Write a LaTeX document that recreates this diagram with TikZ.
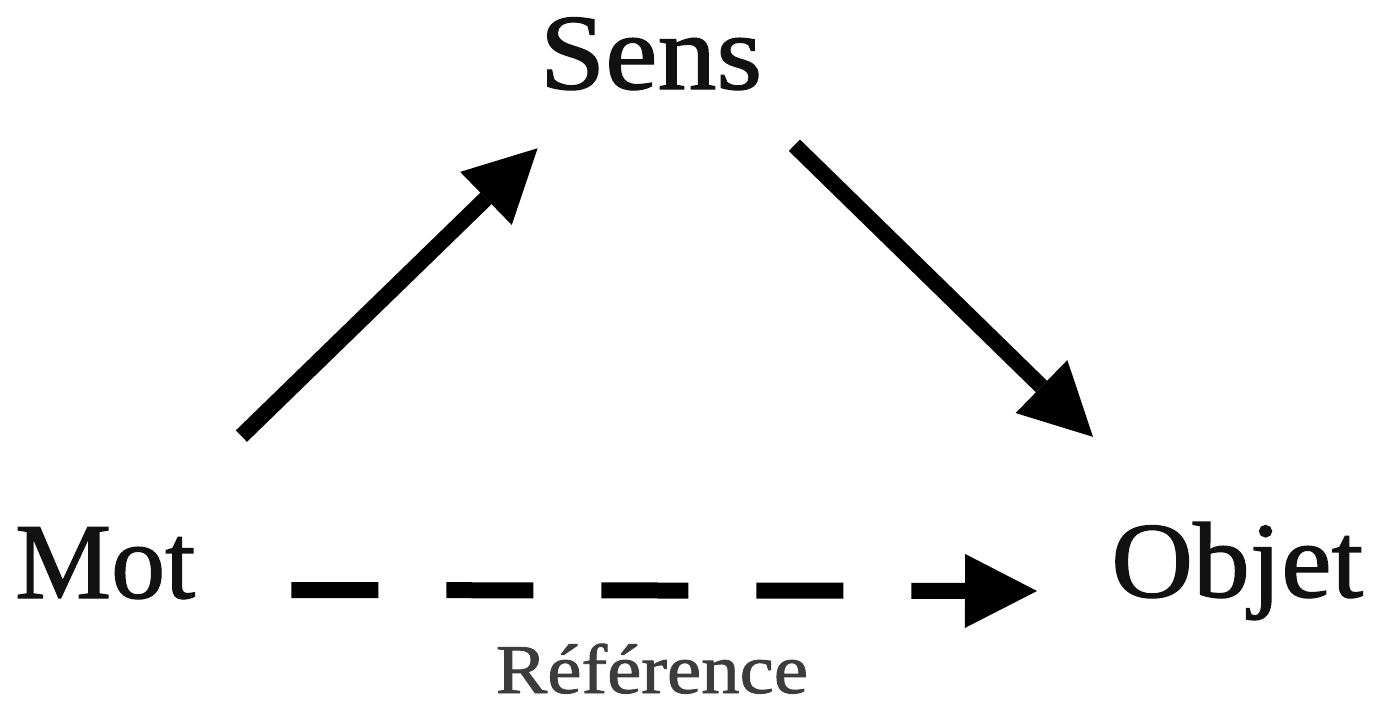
\documentclass[tikz,border=0pt]{standalone}
\usepackage{fontspec}
\setmainfont{Liberation Serif}
\newfontface\heavyface{Liberation Serif}[FakeBold=1.2]
\usetikzlibrary{arrows.meta}
\definecolor{labelgray}{HTML}{3C3C3C}
\definecolor{inkblack}{HTML}{111111}
\tikzset{
  bigword/.style={inner sep=0pt, text=inkblack, font=\heavyface\fontsize{108}{120}\selectfont},
  smallword/.style={inner sep=0pt, text=labelgray, font=\heavyface\fontsize{70}{80}\selectfont},
  thickarrow/.style={line width=16pt, draw=black, -{Triangle[length=72pt,width=74pt,line width=0pt]}},
  dashedarrow/.style={thickarrow, dash pattern=on 87pt off 68pt}
}
\begin{document}
\begin{tikzpicture}[x=1pt,y=-1pt]
\useasboundingbox (0,0) rectangle (1376,707);
\node[bigword, anchor=base] (sens) at (651,89) {\scalebox{1.09}[1]{Sens}};
\node[bigword, anchor=base west] (mot) at (15,598) {Mot};
\node[bigword, anchor=base west] (objet) at (1111,597) {\scalebox{1.05}[1]{Objet}};
\node[smallword, anchor=base] (ref) at (652,693) {\scalebox{1.1}[1]{Référence}};
\draw[thickarrow] ([shift={(46,-91)}]mot.north east) -- ([shift={(-2,58)}]sens.south west);
\draw[thickarrow] ([shift={(32,55)}]sens.south east) -- ([shift={(-18,-85)}]objet.north west);
\draw[dashedarrow] ([shift={(96,-8)}]mot.base east) -- ([shift={(-74,-6)}]objet.base west);
\end{tikzpicture}
\end{document}
